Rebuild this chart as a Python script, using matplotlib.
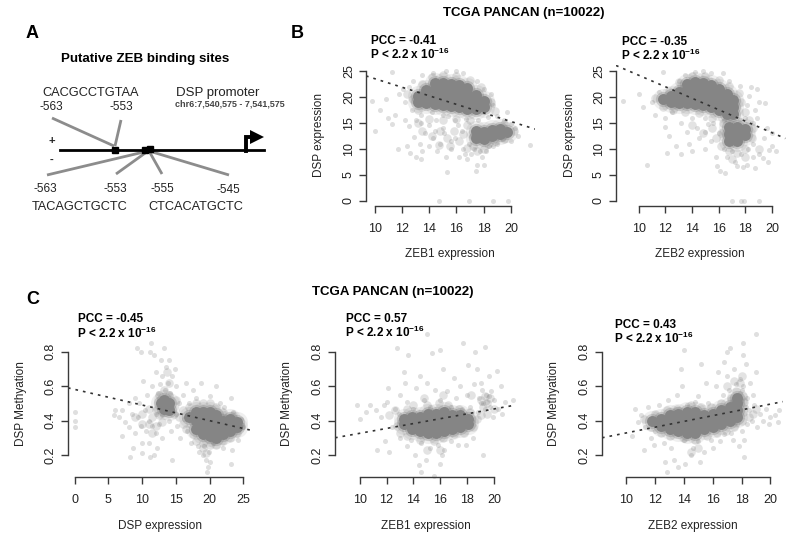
import numpy as np
import matplotlib
matplotlib.use("Agg")
import matplotlib.pyplot as plt

plt.rcParams['font.family'] = ['Liberation Sans', 'DejaVu Sans']
plt.rcParams['mathtext.fontset'] = 'custom'
plt.rcParams['mathtext.bf'] = 'Liberation Sans:bold'
plt.rcParams['mathtext.rm'] = 'Liberation Sans'

# values: dense middle of each cloud, medium density parts, then the scattered points
b1_core = [(13.2,19),(13.2,20.2),(13.8,18.8),(13.8,20),(13.8,21.3),(14.4,18.7),(14.4,20),(14.4,21.5),(14.4,22.6),
           (15,18.4),(15,19.8),(15,21.2),(15,22.6),(15.6,18.2),(15.6,19.6),(15.6,21),(15.6,22.5),(16.2,18),(16.2,19.4),
           (16.2,20.8),(16.2,22.2),(16.8,17.6),(16.8,19),(16.8,20.4),(16.8,21.6),(17.4,17.6),(17.4,19),(17.4,20.4),
           (18,18),(18,19.2),(17.4,12),(17.4,13.4),(18,11.8),(18,13.2),(18.6,12.4),(18.6,13.6),(19.2,12.8),(19.2,13.8),(19.7,13.2)]
b1_mid = [(13.5,13.5),(14.2,12.5),(14.8,13.5),(15.3,12),(15.8,13.5),(15.5,10.5),(16.2,11.5),(16.5,12.8),(16.8,10.2),(16.8,14.5),
          (17.2,10.5),(17.5,9.5),(18,10),(18.3,11),(18.8,11.5),(17,15.5),(16,15.8),(15,15.5),(14,15.8),(13.2,17.5),(12.8,19.5),
          (12.4,20.5),(13.5,22.5),(14.2,23.8),(15,24.2),(16,24),(17,23.3),(17.8,21.8),(18.5,19),(18.8,17.2),(19.5,14.8),(20.2,13.4),
          (19.5,11.8),(14.7,10.8),(13.2,15)]
b1_sparse = [(9.8,19.2),(10.05,13.4),(10.4,17.5),(10.8,19.5),(11.3,24.8),(11,16),(11.3,14.8),(11.5,16.5),(11.8,20.5),
             (11.7,10),(12.1,21.5),(12.2,15.5),(12.5,14.3),(12.4,10.5),(12.9,12.3),(12.6,9.3),(13,8.5),(13.4,8),(13.5,9.5),
             (13.3,11),(13.7,13),(14,14.5),(14,10.5),(14.3,12),(14.5,15.5),(14.6,9.5),(14.8,11),(15.1,13),(15.3,5.5),
             (15.2,8.5),(15.6,10),(15.9,12),(15.9,15.5),(16.2,8.5),(16.5,10),(16.4,13.5),(16.7,15.8),(16.8,8),(17.1,9),
             (17.3,10),(17.4,5.7),(17.5,7),(18,7),(17.9,8.5),(18.2,9.5),(18.7,10.5),(19,11),(19.5,15.5),(19.7,17),(20,14.8),
             (20,11.5),(21.4,10.8),(20.5,12.5),(20.3,14),(19,16.3),(18.7,18.5),(18.5,20.5),(18,21.5),(17.5,23),(16.5,24.5),
             (16,25),(15.2,25),(14.3,24.5),(13.5,24.2),(12.8,23),(12.5,21.8),(12.2,19),(12.7,17.5),(13.4,16.5),(14.7,0),
             (16.9,0),(18.7,0),(19.8,0),(13.4,15),(15,14),(17.6,15.5),(15.4,16.4),(14.2,17),(18.3,16.2),(19.4,11.8),(18.4,10.5),
             (16.9,11),(17.1,12.5),(16.6,9),(17.7,9.5),(15.6,11.5),(14.4,13.5),(13,15.5),(16.1,14.5),(15,16.5)]

b2_core = [(11.8,19.6),(12.4,18.9),(12.4,20.1),(13,18.8),(13,20),(13,21),(13.6,18.8),(13.6,20),(13.6,21.4),(13.6,22.5),
           (14.2,18.6),(14.2,20),(14.2,21.4),(14.2,22.8),(14.8,18.4),(14.8,19.8),(14.8,21.2),(14.8,22.6),(15.4,18),(15.4,19.4),
           (15.4,20.8),(15.4,22.2),(16,17.4),(16,18.8),(16,20.2),(16,21.4),(16.6,16.6),(16.6,18),(16.6,19.4),(16.6,20.6),
           (17.1,16.6),(17.1,18),(17.1,19.3),(16.8,11.5),(16.8,12.9),(16.8,14.2),(17.4,11.5),(17.4,12.8),(17.4,14.2),(18,12.6),(18,13.8)]
b2_mid = [(13.5,17),(14.5,16.8),(15.5,16),(14,14.5),(14.8,13),(15.5,14),(15.8,12),(16.2,10.5),(16.2,13),(16.3,15),(16.8,9.5),
          (17.4,9.3),(18,10),(18.5,12),(18.6,14),(18.3,15.5),(18,17),(17.7,19),(17.5,20.8),(16.8,22),(16,23.3),(15,24),(14,24),
          (13,22.8),(12.3,21.2),(11.2,19.7),(11.8,18),(12.6,17.5),(18,8.5),(17,8),(19,10)]
b2_sparse = [(8.8,19.2),(10,20.5),(10.3,18),(10.6,7),(11,19),(11.2,16.5),(11.5,21),(11.8,24.8),(12,16),(12,14.2),(12.1,9.2),
             (12.3,12.5),(12.5,17),(12.8,10.5),(13,23),(13.2,15),(13.2,9),(13.5,24.2),(13.6,13.2),(13.8,11),(14,16),(14,9.5),
             (14.2,24.8),(14.4,14),(14.5,12),(14.8,25),(15,16),(15,13.2),(15,10),(15.4,24.5),(15.4,11.5),(15.6,15),(15.8,8.5),
             (15.9,6.7),(16,13),(16.1,5.7),(16.3,24.5),(16.4,10),(16.5,5.4),(16.6,8.5),(16.8,23),(17,0),(17.7,0),(17.9,0),(19,0),
             (17,9.5),(17.2,7.5),(17.4,6.8),(17.6,22),(17.7,9),(17.8,6.5),(18,16),(18.1,7),(18.2,10),(18.3,20.2),(18.4,21.8),
             (18.6,8.4),(18.6,11),(18.6,15),(18.7,17.5),(18.7,6.3),(18.9,21.5),(19,9),(19,19),(19.3,8.3),(19.4,12),(19.5,18.8),
             (19.6,14),(19.8,9.8),(20,10.5),(20,13),(20.3,9.6),(19.7,7.5),(18.9,16),(17.6,15.5),(16.4,15.5),(15.2,14.8),(18.1,18.5)]

c1_core = [(17,.42),(18,.35),(18,.4),(18,.45),(19,.32),(19,.37),(19,.42),(19,.45),(20,.31),(20,.36),(20,.41),(20,.45),
           (21,.3),(21,.35),(21,.4),(21,.43),(22,.32),(22,.36),(22,.4),(23,.34),(23,.38),(23,.41),(24,.36),(24,.39),
           (13.3,.47),(13.3,.52),(12.8,.5),(14,.5),(14,.46)]
c1_mid = [(9,.42),(10,.44),(10,.38),(11,.47),(11,.38),(11.5,.33),(11.5,.42),(12,.46),(12,.37),(12.5,.55),(12.5,.43),(13,.39),
          (13.3,.58),(14,.55),(14,.62),(13.7,.68),(14.7,.44),(15,.52),(15.5,.42),(16,.46),(16,.38),(16.5,.35),(17,.48),(17.5,.32),
          (18,.28),(19,.27),(20,.26),(21,.26),(22,.28),(23,.3),(24,.33),(24.6,.37),(23.5,.43),(22,.45),(21,.48),(20,.5),(19,.5),
          (18,.5),(19.5,.21),(19,.24)]
c1_sparse = [(0.1,.36),(0.1,.4),(0.1,.45),(5.8,.43),(6,.46),(6.5,.42),(7,.46),(7,.31),(7.5,.39),(8,.5),(8,.36),(8.2,.19),
             (8.5,.44),(8.7,.24),(9,.53),(9,.33),(9.2,.82),(9.4,.42),(9.6,.5),(9.8,.8),(9.8,.37),(10,.27),(10,.21),(10.2,.63),
             (10.4,.46),(10.6,.34),(10.7,.55),(11,.4),(11,.27),(11.2,.8),(11.2,.19),(11.3,.85),(11.5,.37),(11.5,.6),(11.7,.78),
             (11.8,.2),(12,.44),(12,.33),(12.1,.68),(12.2,.24),(12.3,.56),(12.5,.38),(12.6,.61),(12.8,.75),(13,.43),(13,.66),
             (13,.3),(13.3,.82),(13.4,.58),(13.5,.71),(13.8,.62),(14,.4),(14,.75),(14.2,.56),(14.3,.34),(14.4,.66),(14.5,.17),
             (14.8,.7),(15,.44),(15,.6),(15.2,.37),(15.5,.5),(15.6,.3),(16,.55),(16.2,.41),(16.5,.62),(16.7,.34),(17,.5),(17.2,.27),
             (17.5,.58),(18,.53),(18.3,.25),(18.5,.22),(18.8,.62),(19,.2),(19.2,.25),(19.4,.17),(19.6,.1),(19.8,.13),(19.9,.22),(20,.16),
             (20,.54),(20.5,.27),(21,.6),(21.5,.5),(22,.24),(22.2,.48),(23.2,.53),(23.2,.15),(23.3,.23),(24.2,.29),(24.7,.41),(25,.36),(23.5,.45)]

c2_core = [(13.3,.38),(13.3,.41),(13.9,.35),(13.9,.39),(13.9,.42),(14.5,.34),(14.5,.38),(14.5,.42),(15.1,.33),(15.1,.37),(15.1,.41),(15.1,.44),
           (15.7,.33),(15.7,.37),(15.7,.41),(15.7,.44),(16.3,.34),(16.3,.38),(16.3,.42),(16.3,.45),(16.9,.35),(16.9,.39),(16.9,.43),
           (17.5,.36),(17.5,.4),(17.5,.43),(18.1,.38),(18.1,.41)]
c2_mid = [(12.2,.43),(12.8,.37),(12.6,.46),(13,.33),(13.5,.47),(13.5,.31),(14,.49),(14.5,.29),(15,.49),(15.5,.28),(15.9,.5),(16.2,.3),
          (16.6,.49),(17,.32),(17.4,.47),(17.8,.33),(18.2,.45),(18.4,.36),(18.7,.41),(19,.43),(19.2,.48),(19,.52),(19.5,.5),(19.3,.54),
          (19.7,.53),(20,.47),(19.5,.44),(15,.23),(16,.23),(14.8,.53),(16.2,.55),(18.3,.55)]
c2_sparse = [(9.8,.49),(10,.41),(10.5,.45),(10.8,.49),(11.2,.46),(11.3,.23),(11.6,.42),(11.8,.49),(11.9,.28),(12,.51),(12.1,.59),(12.2,.22),
             (12.4,.36),(12.6,.47),(12.8,.82),(12.9,.44),(13,.55),(13,.3),(13.3,.68),(13.4,.62),(13.5,.51),(13.5,.25),(13.6,.78),(13.8,.29),
             (14,.47),(14.1,.2),(14.2,.59),(14.4,.14),(14.5,.66),(14.6,.27),(14.6,.1),(14.8,.52),(14.9,.17),(15,.62),(15,.9),(15.2,.48),(15.2,.24),
             (15.4,.79),(15.5,.08),(15.6,.58),(15.8,.26),(16,.52),(16,.81),(16,.15),(16.1,.2),(16.2,.7),(16.3,.23),(16.5,.57),(16.8,.48),(16.8,.28),
             (17,.65),(17.2,.53),(17.3,.26),(17.5,.6),(17.7,.85),(17.6,.47),(17.9,.26),(18,.55),(18.1,.72),(18.2,.48),(18.4,.3),(18.5,.61),(18.6,.8),
             (18.7,.7),(18.8,.45),(18.9,.53),(19,.5),(19,.62),(19.2,.2),(19.3,.83),(19.3,.47),(19.4,.55),(19.5,.51),(19.6,.66),(19.7,.48),(19.8,.57),
             (19.9,.42),(20,.52),(20.2,.69),(20.3,.47),(20.5,.6),(20.6,.44),(20.8,.51),(21.4,.52),(19.1,.58),(19.6,.54),(19.2,.5)]

c3_core = [(11.8,.4),(12.4,.37),(12.4,.41),(13,.35),(13,.39),(13,.43),(13.6,.34),(13.6,.38),(13.6,.42),(13.6,.44),(14.2,.33),(14.2,.37),(14.2,.41),(14.2,.45),
           (14.8,.33),(14.8,.37),(14.8,.41),(14.8,.45),(15.4,.35),(15.4,.39),(15.4,.43),(16,.36),(16,.4),(16,.44),(16.6,.38),(16.6,.42),(16.6,.46),
           (17.2,.4),(17.2,.44),(17.2,.48),(17.7,.42),(17.7,.46),(17.7,.5),(17.7,.53)]
c3_mid = [(11.2,.41),(11.7,.36),(12,.44),(12.4,.33),(12.8,.46),(13,.31),(13.5,.47),(14,.3),(14.5,.49),(14.8,.29),(15.2,.48),(15.6,.31),
          (15.9,.48),(16.3,.33),(16.6,.5),(16.9,.34),(17.3,.53),(17.5,.36),(17.6,.57),(18,.4),(18.1,.45),(18.2,.51),(18.1,.54),(18.5,.42),
          (18.8,.44),(14.5,.22),(15,.24),(17.5,.63),(17.9,.62),(18,.66),(19,.47),(17,.6)]
c3_sparse = [(10.4,.31),(10.6,.47),(10.8,.39),(11,.43),(11.2,.23),(11.3,.36),(11.5,.48),(11.7,.3),(11.9,.26),(12,.34),(12.3,.49),(12.6,.27),(12.7,.16),
             (12.8,.1),(12.9,.52),(13.1,.24),(13.3,.17),(13.5,.55),(13.6,.13),(13.8,.7),(13.9,.6),(14,.29),(14,.81),(14.1,.15),(14.2,.49),(14.5,.2),(14.6,.24),(14.8,.51),
             (15,.54),(15,.28),(15.1,.16),(15.2,.73),(15.4,.22),(15.5,.62),(15.7,.5),(15.9,.29),(16,.24),(16.2,.6),(16.4,.68),(16.5,.28),(16.7,.55),(16.8,.74),
             (16.8,.32),(17,.66),(17,.8),(17.1,.58),(17.2,.82),(17.3,.33),(17.4,.29),(17.5,.7),(17.6,.61),(17.7,.38),(17.8,.25),(17.9,.64),(18,.34),(18.1,.78),
             (18,.58),(18.1,.85),(18.2,.29),(18.2,.19),(18.3,.73),(18.4,.53),(18.4,.38),(18.5,.46),(18.6,.62),(18.7,.4),(18.8,.55),(18.9,.49),(19,.9),(19,.68),
             (19.1,.36),(19.3,.44),(19.5,.4),(19.7,.47),(19.9,.38),(20,.42),(20.3,.43),(20.6,.46),(20.5,.39),(18.1,.6),(17.9,.56),(18.3,.48)]

b1_line_x, b1_line_y = [9.36, 21.76], [24, 13.8]
b2_line_x, b2_line_y = [8.3, 21], [26, 12]
c1_line_x, c1_line_y = [-1, 26], [.59, .345]
c2_line_x, c2_line_y = [8.16, 21.6], [.30, .49]
c3_line_x, c3_line_y = [8.31, 20.87], [.30, .51]

exp_ticks = [10, 12, 14, 16, 18, 20]
dsp_ticks = [0, 5, 10, 15, 20, 25]
meth_ticks = [0.2, 0.4, 0.6, 0.8]

DARK = "#3a3a3a"
W, H = 800, 550

fig = plt.figure(figsize=(8, 5.5), dpi=100)
bg = fig.add_axes([0, 0, 1, 1])
bg.set_xlim(0, W)
bg.set_ylim(H, 0)
bg.axis("off")


def put(x, y, s, size=8.5, weight="normal", ha="center", rot=0, color="#222222"):
    bg.text(x, y, s, fontsize=size, fontweight=weight, ha=ha, va="center", rotation=rot, color=color)


def panel(core, mid, sparse, line_x, line_y, box, x_px, y_px, xticks, yticks):
    """box = left, right, top, bottom in pixels; x_px, y_px = pixels of first and last tick"""
    left, right, top, bottom = box
    ax = fig.add_axes([left / W, 1 - bottom / H, (right - left) / W, (bottom - top) / H])
    ax.patch.set_alpha(0)
    sx = (xticks[-1] - xticks[0]) / (x_px[1] - x_px[0])
    sy = (yticks[-1] - yticks[0]) / (y_px[0] - y_px[1])
    ax.set_xlim(xticks[0] + (left - x_px[0]) * sx, xticks[0] + (right - x_px[0]) * sx)
    ax.set_ylim(yticks[0] - (bottom - y_px[0]) * sy, yticks[0] + (y_px[0] - top) * sy)

    cx, cy = np.array(core).T
    mx, my = np.array(mid).T
    px, py = np.array(sparse).T
    ax.scatter(px, py, s=13, color="#808080", alpha=0.25, linewidths=0, clip_on=False)
    ax.scatter(mx, my, s=38, color="#808080", alpha=0.22, linewidths=0, clip_on=False)
    ax.scatter(cx, cy, s=230, color="#808080", alpha=0.12, linewidths=0, clip_on=False)
    ax.scatter(cx, cy, s=120, color="#808080", alpha=0.3, linewidths=0, clip_on=False)
    ax.scatter(cx, cy, s=62, color="#858585", linewidths=0, clip_on=False)
    ax.plot(line_x, line_y, color="#333333", lw=1.2, ls=(0, (1.6, 3)))

    for name in ["top", "right"]:
        ax.spines[name].set_visible(False)
    for name in ["left", "bottom"]:
        ax.spines[name].set_color(DARK)
        ax.spines[name].set_linewidth(1.0)
    ax.spines["left"].set_bounds(yticks[0], yticks[-1])
    ax.spines["bottom"].set_bounds(xticks[0], xticks[-1])
    ax.set_xticks(xticks)
    ax.set_yticks(yticks)
    ax.tick_params(axis="both", length=5, width=1.0, color=DARK, labelsize=9, labelcolor="#222222")
    ax.tick_params(axis="x", pad=7)
    ax.tick_params(axis="y", pad=3)
    for lab in ax.get_yticklabels():
        lab.set_rotation(90)
        lab.set_va("center")
    return ax


def stats(x, y, pcc, gap=13):
    put(x, y, "PCC = " + pcc, size=8.5, weight="bold", ha="left", color="black")
    put(x - 1, y + gap, r"P < 2.2 x 10$\mathbf{^{-16}}$", size=8.5, weight="bold", ha="left", color="black")


panel(b1_core, b1_mid, b1_sparse, b1_line_x, b1_line_y, (366, 535, 65, 206), (374.7, 511), (201, 70.7), exp_ticks, dsp_ticks)
panel(b2_core, b2_mid, b2_sparse, b2_line_x, b2_line_y, (616, 786, 65, 206), (638.7, 772), (201, 70.7), exp_ticks, dsp_ticks)
panel(c1_core, c1_mid, c1_sparse, c1_line_x, c1_line_y, (68, 250, 330, 477.3), (74.7, 243.3), (455, 351.7), dsp_ticks, meth_ticks)
panel(c2_core, c2_mid, c2_sparse, c2_line_x, c2_line_y, (335, 516, 330, 477.3), (359.7, 494), (455, 351.7), exp_ticks, meth_ticks)
panel(c3_core, c3_mid, c3_sparse, c3_line_x, c3_line_y, (602, 783, 330, 477.3), (626.3, 770.3), (455, 351.7), exp_ticks, meth_ticks)

put(319, 135, "DSP expression", rot=90)
put(570, 135, "DSP expression", rot=90)
put(21, 404, "DSP Methyation", rot=90)
put(287, 404, "DSP Methyation", rot=90)
put(554, 404, "DSP Methyation", rot=90)
put(450, 254, "ZEB1 expression")
put(700, 254, "ZEB2 expression")
put(160, 526, "DSP expression")
put(426, 526, "ZEB1 expression")
put(693, 526, "ZEB2 expression")

stats(371, 41, "-0.41")
stats(622, 42, "-0.35")
stats(78, 319, "-0.45", 14)
stats(346, 319, "0.57")
stats(615, 325, "0.43")

put(524, 13, "TCGA PANCAN (n=10022)", size=9.5, weight="bold", color="black")
put(393, 292, "TCGA PANCAN (n=10022)", size=9.5, weight="bold", color="black")
put(26, 34, "A", size=13, weight="bold", ha="left", color="black")
put(291, 34, "B", size=13, weight="bold", ha="left", color="black")
put(26, 300, "C", size=13, weight="bold", ha="left", color="black")

# panel A, promoter sketch
put(145, 59, "Putative ZEB binding sites", size=9.6, weight="bold", color="black")
for seg in [((52, 114), (118, 146)), ((121, 115), (120, 146)), ((47, 148), (175, 151)),
            ((116, 148), (174, 151)), ((162, 149), (174, 151)), ((229, 149), (175, 151))]:
    bg.plot(seg[0], seg[1], color="#8c8c8c", lw=2.0, solid_capstyle="butt")
bg.plot([60, 264], [149.7, 149.7], color="black", lw=2.0)
bg.plot([114.5, 144.5], [149.5, 149.5], color="black", ls="none", marker="s", ms=3.8)
bg.plot([150], [148.5], color="black", ls="none", marker="s", ms=3.8)
bg.plot([245.5, 245.5, 250], [151, 137, 137], color="black", lw=2.8, solid_joinstyle="miter")
bg.fill([250, 250, 264], [130, 144, 137], color="black", lw=0)
put(90.7, 93, "CACGCCTGTAA", size=9.2)
put(51, 107, "-563", size=8.5)
put(121, 107, "-553", size=8.5)
put(176, 93, "DSP promoter", size=9.5, ha="left")
put(175, 104.5, "chr6:7,540,575 - 7,541,575", size=6.5, weight="bold", ha="left", color="#444444")
put(52, 141, "+", size=8, weight="bold")
put(52, 160, "-", size=8, weight="bold")
put(45, 189, "-563", size=8.5)
put(115, 189, "-553", size=8.5)
put(162, 189, "-555", size=8.5)
put(228, 190, "-545", size=8.5)
put(80, 207, "TACAGCTGCTC", size=9.2)
put(196, 207, "CTCACATGCTC", size=9.2)

fig.savefig("out.png", dpi=100)
